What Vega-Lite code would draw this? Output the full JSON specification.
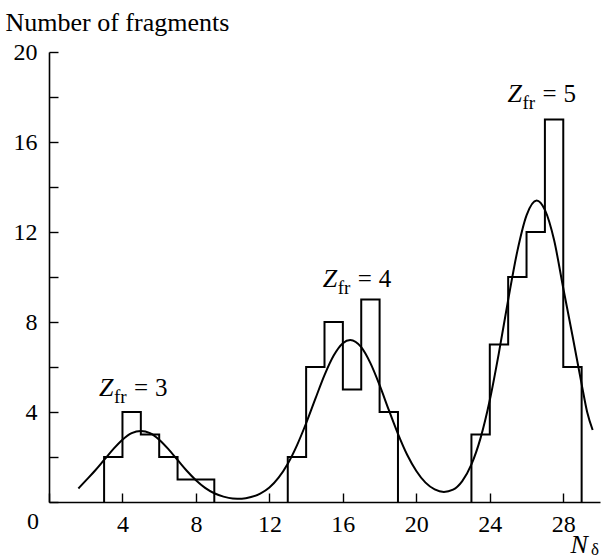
{
  "$schema": "https://vega.github.io/schema/vega-lite/v6.json",
  "autosize": {"type": "none"},
  "padding": {"left": 49, "top": 52, "right": 8, "bottom": 58},
  "width": 551,
  "height": 450,
  "background": "white",
  "config": {
    "view": {"stroke": null},
    "font": "Liberation Serif",
    "axis": {
      "domainColor": "black",
      "domainWidth": 1.6,
      "tickColor": "black",
      "tickWidth": 1.4,
      "tickSize": -9,
      "labelFont": "Liberation Serif",
      "labelFontSize": 24,
      "labelColor": "black",
      "titleFont": "Liberation Serif",
      "titleFontSize": 26,
      "titleFontWeight": "normal",
      "titleColor": "black",
      "grid": false
    }
  },
  "datasets": {
    "hist": [
      {"g": "Z3", "i": 0, "x": 3, "n": 0},
      {"g": "Z3", "i": 1, "x": 4, "n": 2},
      {"g": "Z3", "i": 2, "x": 5, "n": 4},
      {"g": "Z3", "i": 3, "x": 6, "n": 3},
      {"g": "Z3", "i": 4, "x": 7, "n": 2},
      {"g": "Z3", "i": 5, "x": 8, "n": 1},
      {"g": "Z3", "i": 6, "x": 9, "n": 1},
      {"g": "Z3", "i": 7, "x": 9, "n": 0},
      {"g": "Z4", "i": 0, "x": 13, "n": 0},
      {"g": "Z4", "i": 1, "x": 14, "n": 2},
      {"g": "Z4", "i": 2, "x": 15, "n": 6},
      {"g": "Z4", "i": 3, "x": 16, "n": 8},
      {"g": "Z4", "i": 4, "x": 17, "n": 5},
      {"g": "Z4", "i": 5, "x": 18, "n": 9},
      {"g": "Z4", "i": 6, "x": 19, "n": 4},
      {"g": "Z4", "i": 7, "x": 19, "n": 0},
      {"g": "Z5", "i": 0, "x": 23, "n": 0},
      {"g": "Z5", "i": 1, "x": 24, "n": 3},
      {"g": "Z5", "i": 2, "x": 25, "n": 7},
      {"g": "Z5", "i": 3, "x": 26, "n": 10},
      {"g": "Z5", "i": 4, "x": 27, "n": 12},
      {"g": "Z5", "i": 5, "x": 28, "n": 17},
      {"g": "Z5", "i": 6, "x": 29, "n": 6},
      {"g": "Z5", "i": 7, "x": 29, "n": 0}
    ],
    "fit": [
      {"x": 1.6, "y": 0.6}, {"x": 2.0, "y": 0.95}, {"x": 2.5, "y": 1.39}, {"x": 3.0, "y": 1.87},
      {"x": 3.5, "y": 2.35}, {"x": 4.0, "y": 2.77}, {"x": 4.5, "y": 3.06}, {"x": 5.0, "y": 3.16},
      {"x": 5.5, "y": 3.06}, {"x": 6.0, "y": 2.77}, {"x": 6.5, "y": 2.35}, {"x": 7.0, "y": 1.87},
      {"x": 7.5, "y": 1.39}, {"x": 8.0, "y": 0.97}, {"x": 8.5, "y": 0.63}, {"x": 9.0, "y": 0.39},
      {"x": 9.5, "y": 0.24}, {"x": 10.0, "y": 0.16}, {"x": 10.5, "y": 0.15}, {"x": 11.0, "y": 0.22},
      {"x": 11.5, "y": 0.37}, {"x": 12.0, "y": 0.64}, {"x": 12.5, "y": 1.08}, {"x": 13.0, "y": 1.7},
      {"x": 13.5, "y": 2.52}, {"x": 14.0, "y": 3.5}, {"x": 14.5, "y": 4.58}, {"x": 15.0, "y": 5.64},
      {"x": 15.5, "y": 6.51}, {"x": 16.0, "y": 7.06}, {"x": 16.4, "y": 7.2}, {"x": 17.0, "y": 6.88},
      {"x": 17.5, "y": 6.17}, {"x": 18.0, "y": 5.19}, {"x": 18.5, "y": 4.09}, {"x": 19.0, "y": 3.03},
      {"x": 19.5, "y": 2.1}, {"x": 20.0, "y": 1.38}, {"x": 20.5, "y": 0.86}, {"x": 21.0, "y": 0.56},
      {"x": 21.5, "y": 0.45}, {"x": 22.0, "y": 0.55}, {"x": 22.5, "y": 0.93}, {"x": 23.0, "y": 1.67},
      {"x": 23.5, "y": 2.85}, {"x": 24.0, "y": 4.53}, {"x": 24.5, "y": 6.65}, {"x": 25.0, "y": 8.98},
      {"x": 25.5, "y": 11.15}, {"x": 26.0, "y": 12.74}, {"x": 26.55, "y": 13.4}, {"x": 27.0, "y": 12.98},
      {"x": 27.5, "y": 11.64}, {"x": 28.0, "y": 9.5}, {"x": 28.5, "y": 7.4}, {"x": 29.0, "y": 5.24},
      {"x": 29.3, "y": 4.0}, {"x": 29.6, "y": 3.2}
    ],
    "labels": [
      {"x": 2.72, "y": 4.71, "z": "3"},
      {"x": 14.9, "y": 9.56, "z": "4"},
      {"x": 24.96, "y": 17.76, "z": "5"}
    ]
  },
  "layer": [
    {
      "data": {"name": "hist"},
      "mark": {"type": "line", "interpolate": "step-before", "color": "black", "strokeWidth": 2},
      "encoding": {
        "x": {
          "field": "x", "type": "quantitative",
          "scale": {"domain": [0, 30], "nice": false, "zero": false},
          "axis": {
            "values": [0, 2, 4, 6, 8, 10, 12, 14, 16, 18, 20, 22, 24, 26, 28, 30],
            "labelExpr": "datum.value % 4 == 0 && datum.value > 0 && datum.value < 30 ? datum.label : ''",
            "labelPadding": 19,
            "labelFlush": false,
            "labelOverlap": false,
            "title": "N",
            "titleFontStyle": "italic",
            "titleAlign": "left",
            "titleBaseline": "alphabetic",
            "titleAnchor": "start",
            "titleX": 521,
            "titleY": 50
          }
        },
        "y": {
          "field": "n", "type": "quantitative",
          "scale": {"domain": [0, 20], "nice": false},
          "axis": {
            "values": [0, 2, 4, 6, 8, 10, 12, 14, 16, 18, 20],
            "labelExpr": "datum.value % 4 == 0 && datum.value > 0 ? datum.label : ''",
            "labelPadding": 21,
            "labelFlush": false,
            "labelOverlap": false,
            "title": "Number of fragments",
            "titleAngle": 0,
            "titleAlign": "left",
            "titleBaseline": "alphabetic",
            "titleAnchor": "start",
            "titleX": -44,
            "titleY": -22
          }
        },
        "detail": {"field": "g"},
        "order": {"field": "i", "type": "quantitative"}
      }
    },
    {
      "data": {"name": "fit"},
      "mark": {"type": "line", "interpolate": "monotone", "color": "black", "strokeWidth": 2},
      "encoding": {
        "x": {"field": "x", "type": "quantitative"},
        "y": {"field": "y", "type": "quantitative"}
      }
    },
    {
      "data": {"name": "labels"},
      "mark": {"type": "text", "align": "left", "baseline": "alphabetic", "fontSize": 26, "fontStyle": "italic", "font": "Liberation Serif", "color": "black"},
      "encoding": {
        "x": {"field": "x", "type": "quantitative"},
        "y": {"field": "y", "type": "quantitative"},
        "text": {"value": "Z"}
      }
    },
    {
      "data": {"name": "labels"},
      "mark": {"type": "text", "align": "left", "baseline": "alphabetic", "fontSize": 19, "dx": 15, "dy": 7, "font": "Liberation Serif", "color": "black"},
      "encoding": {
        "x": {"field": "x", "type": "quantitative"},
        "y": {"field": "y", "type": "quantitative"},
        "text": {"value": "fr"}
      }
    },
    {
      "data": {"name": "labels"},
      "mark": {"type": "text", "align": "left", "baseline": "alphabetic", "fontSize": 25, "dx": 35, "font": "Liberation Serif", "color": "black"},
      "encoding": {
        "x": {"field": "x", "type": "quantitative"},
        "y": {"field": "y", "type": "quantitative"},
        "text": {"value": "="}
      }
    },
    {
      "data": {"name": "labels"},
      "mark": {"type": "text", "align": "left", "baseline": "alphabetic", "fontSize": 25, "dx": 56, "font": "Liberation Serif", "color": "black"},
      "encoding": {
        "x": {"field": "x", "type": "quantitative"},
        "y": {"field": "y", "type": "quantitative"},
        "text": {"field": "z"}
      }
    },
    {
      "data": {"values": [{"t": "0"}]},
      "mark": {"type": "text", "align": "center", "baseline": "middle", "fontSize": 24, "dx": -16, "dy": 20, "font": "Liberation Serif", "color": "black"},
      "encoding": {
        "x": {"datum": 0, "type": "quantitative"},
        "y": {"datum": 0, "type": "quantitative"},
        "text": {"field": "t"}
      }
    },
    {
      "data": {"values": [{"t": "δ"}]},
      "mark": {"type": "text", "align": "left", "baseline": "alphabetic", "fontSize": 17, "dx": -9, "dy": 53, "font": "Liberation Serif", "color": "black"},
      "encoding": {
        "x": {"datum": 30, "type": "quantitative"},
        "y": {"datum": 0, "type": "quantitative"},
        "text": {"field": "t"}
      }
    }
  ]
}
